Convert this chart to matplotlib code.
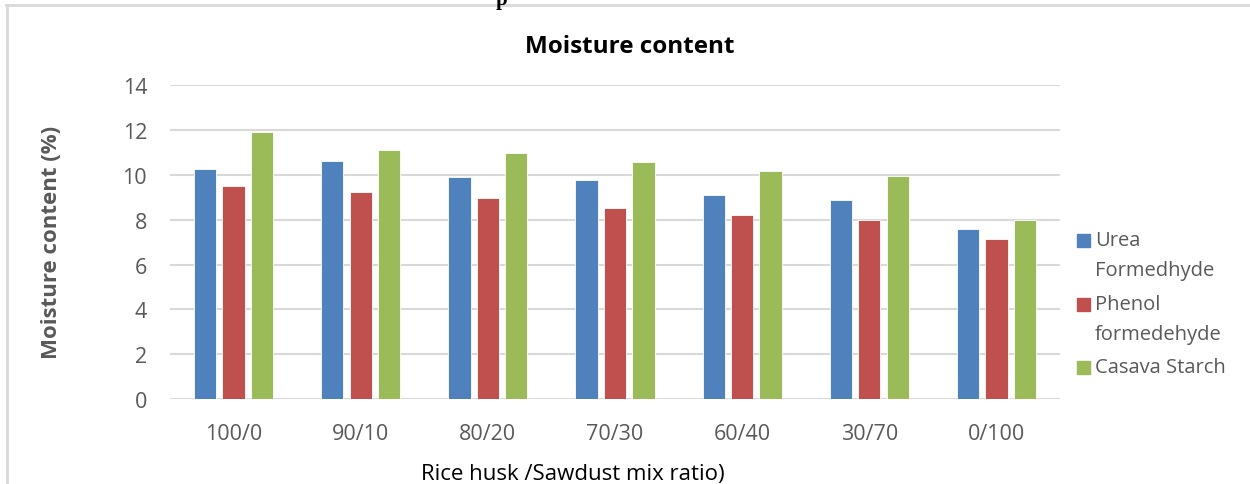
import numpy as np
import matplotlib.pyplot as plt
from matplotlib.patches import Rectangle
from matplotlib.lines import Line2D

# mix ratios (rice husk / sawdust) and moisture content per binder, %
ratios = ["100/0", "90/10", "80/20", "70/30", "60/40", "30/70", "0/100"]
urea = [10.25, 10.64, 9.92, 9.77, 9.09, 8.87, 7.58]
phenol = [9.49, 9.22, 8.97, 8.54, 8.23, 7.98, 7.16]
starch = [11.93, 11.11, 10.98, 10.58, 10.16, 9.97, 7.98]

series = [
    ("Urea\nFormedhyde", urea, "#4F81BD"),
    ("Phenol\nformedehyde", phenol, "#C0504D"),
    ("Casava Starch", starch, "#9BBB59"),
]

plt.rcParams["font.family"] = ["Open Sans", "DejaVu Sans"]

fig = plt.figure(figsize=(12.5, 4.85), dpi=100)
ax = fig.add_axes([0.136, 0.1753, 0.712, 0.6467])

x = np.arange(len(ratios))
width = 0.175
step = 0.224
for i, (name, vals, color) in enumerate(series):
    ax.bar(x + (i - 1) * step, vals, width, color=color,
           edgecolor="white", linewidth=0.6, zorder=3)

ax.set_xlim(-0.5, len(ratios) - 0.5)
ax.set_ylim(0, 14)
ax.set_yticks(range(0, 15, 2))
ax.set_xticks(x)
ax.set_xticklabels(ratios)
ax.tick_params(axis="both", length=0, labelsize=15.5, labelcolor="#595959")
ax.tick_params(axis="x", pad=17)
ax.tick_params(axis="y", pad=16.5)
ax.grid(axis="y", color="#d9d9d9", linewidth=1.5, zorder=0)
for side in ["top", "right", "left", "bottom"]:
    ax.spines[side].set_visible(False)

fig.text(0.504, 0.904, "Moisture content", ha="center", va="center",
         fontsize=17.5, fontweight="bold", color="black")
fig.text(0.041, 0.5, "Moisture content (%)", rotation=90, ha="center",
         va="center", fontsize=16, fontweight="bold", color="#595959")
fig.text(0.458, 0.022, "Rice husk /Sawdust mix ratio)", ha="center",
         va="center", fontsize=16, color="black")

# legend drawn by hand so the swatch sits on the first text line
leg_rows = [0.503, 0.371, 0.241]
line_step = 0.0619
for (name, vals, color), ymid in zip(series, leg_rows):
    fig.patches.append(Rectangle((0.8616, ymid - 0.0134), 0.0104, 0.0268,
                                 transform=fig.transFigure, color=color))
    for k, part in enumerate(name.split("\n")):
        fig.text(0.876, ymid - k * line_step, part, ha="left", va="center",
                 fontsize=14.5, color="#595959")

# outer frame and clipped heading above the chart
fig.lines.append(Line2D([0.005, 1.0], [0.9876, 0.9876], transform=fig.transFigure,
                        color="#d9d9d9", linewidth=2))
fig.lines.append(Line2D([0.0052, 0.0052], [0.0, 0.9876], transform=fig.transFigure,
                        color="#d9d9d9", linewidth=2))
fig.text(0.4015, 0.99, "p", ha="center", va="baseline", fontsize=15,
         fontweight="bold", family="Liberation Serif", color="black")

fig.savefig("out.png", dpi=100)
